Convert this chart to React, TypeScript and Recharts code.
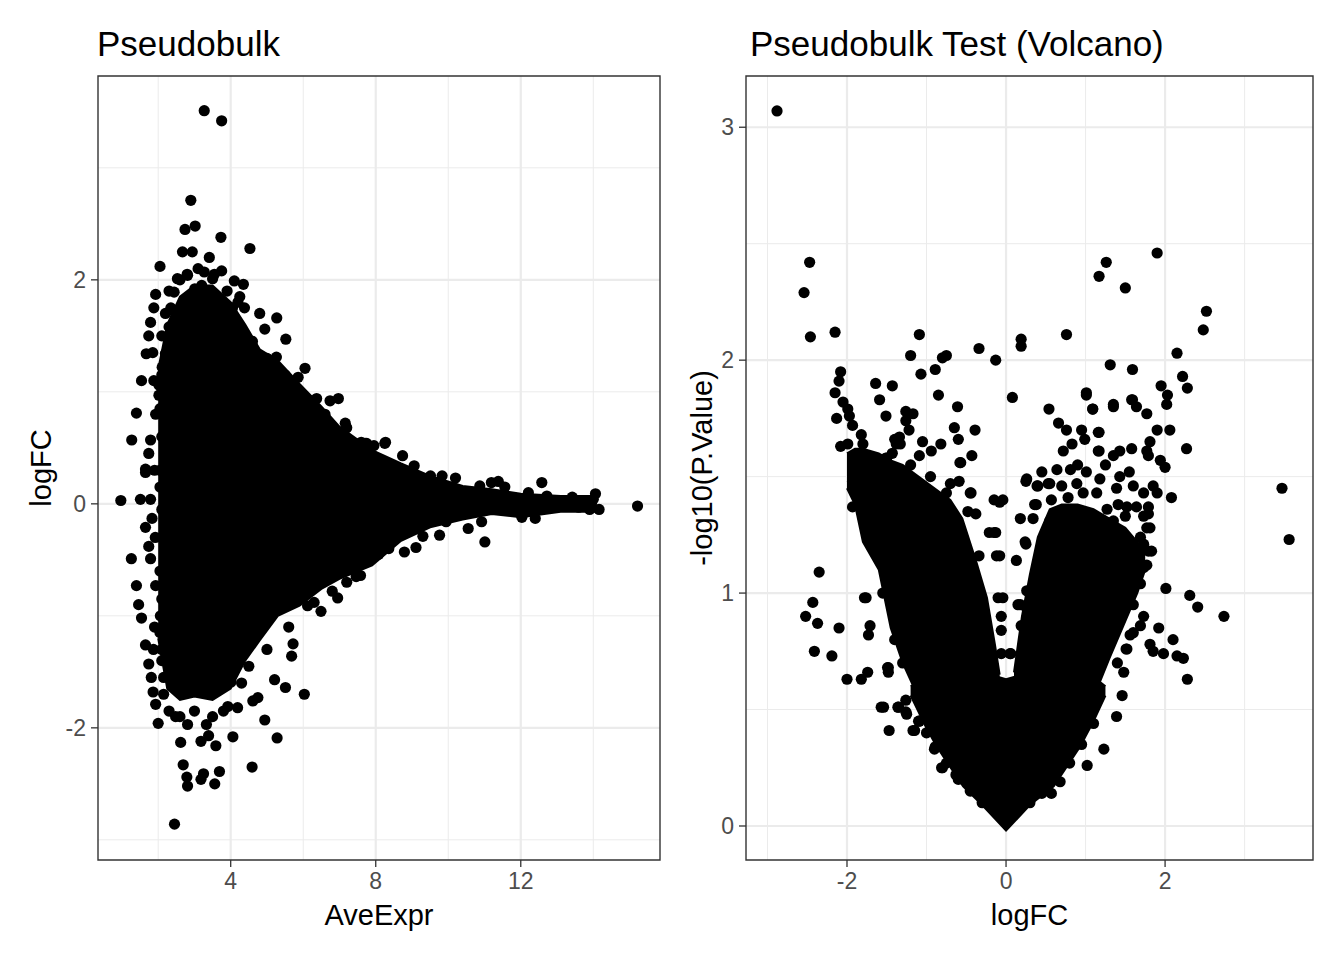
import React from "react";
import {
  ComposedChart,
  Area,
  Scatter,
  XAxis,
  YAxis,
  CartesianGrid,
  ReferenceArea,
} from "recharts";

const FONT = "'Liberation Sans', Arial, Helvetica, sans-serif";

// ---- MA plot (AveExpr vs logFC) ----
// solid core of the point cloud: AveExpr, lower logFC, upper logFC
const maCoreX = [2.0, 2.25, 2.6, 3.0, 3.5, 4.0, 4.4, 4.8, 5.3, 5.9, 6.5, 7.0, 7.9, 8.7, 9.5, 10.4, 11.2, 12.0, 13.1, 14.1];
const maCoreLow = [-1.2, -1.65, -1.75, -1.72, -1.75, -1.65, -1.4, -1.22, -1.0, -0.91, -0.76, -0.67, -0.55, -0.33, -0.21, -0.14, -0.09, -0.12, -0.07, -0.07];
const maCoreHigh = [1.2, 1.6, 1.85, 1.95, 1.95, 1.8, 1.6, 1.38, 1.28, 1.07, 0.87, 0.69, 0.48, 0.36, 0.25, 0.16, 0.13, 0.09, 0.07, 0.07];

// individual genes outside / on the edge of the core: [AveExpr, logFC]
const maPoints = [
  [3.27, 3.51], [3.75, 3.42], [2.9, 2.71], [2.74, 2.45], [3.02, 2.48], [3.73, 2.38], [4.53, 2.28],
  [2.67, 2.25], [2.94, 2.25], [3.41, 2.2], [2.05, 2.12], [2.81, 2.04], [3.27, 2.07], [3.75, 2.08],
  [2.53, 2.01], [3.5, 2.01], [4.1, 1.99], [4.35, 1.96], [1.93, 1.87], [2.44, 1.89], [3.01, 1.92],
  [1.88, 1.75], [2.39, 1.73], [4.38, 1.75], [4.8, 1.7], [5.27, 1.66], [1.79, 1.62], [1.74, 1.5],
  [2.3, 1.58], [4.94, 1.56], [5.52, 1.47], [1.67, 1.34], [2.2, 1.34], [2.11, 1.22], [6.05, 1.21],
  [5.26, 1.31], [5.86, 1.13], [1.54, 1.1], [2.02, 1.06], [2.02, 0.97], [6.37, 0.94], [6.74, 0.92],
  [6.97, 0.94], [1.4, 0.81], [1.93, 0.8], [7.16, 0.72], [7.71, 0.54], [8.27, 0.55], [1.27, 0.57],
  [1.79, 0.57], [1.74, 0.45], [1.65, 0.31], [1.65, 0.28], [0.97, 0.03], [1.51, 0.04], [1.79, 0.04],
  [1.83, -0.13], [1.65, -0.21], [1.74, -0.38], [1.26, -0.49], [1.79, -0.49], [1.4, -0.73],
  [1.93, -0.73], [1.46, -0.9], [1.54, -1.02], [2.06, -1.0], [1.65, -1.26], [1.74, -1.43],
  [1.81, -1.55], [1.86, -1.68], [1.93, -1.79], [2.0, -1.96], [2.48, -1.9], [2.62, -2.13],
  [2.81, -1.97], [3.33, -1.97], [3.18, -2.12], [3.39, -2.07], [3.59, -2.16], [4.06, -2.08],
  [4.94, -1.93], [5.28, -2.09], [2.69, -2.33], [2.79, -2.44], [2.81, -2.52], [3.25, -2.41],
  [3.18, -2.46], [3.69, -2.39], [3.56, -2.5], [4.59, -2.35], [2.45, -2.86], [5.21, -1.57],
  [5.51, -1.64], [6.03, -1.7], [4.01, -1.59], [4.19, -1.82], [3.92, -1.81], [4.61, -1.76],
  [4.75, -1.73], [5.68, -1.36], [5.72, -1.25], [6.49, -0.96], [6.95, -0.84], [6.12, -0.91],
  [7.46, -0.65], [7.39, -0.58], [7.71, -0.51], [8.08, -0.45], [8.36, -0.4], [8.25, 0.54],
  [8.74, 0.43], [7.75, 0.54], [7.95, 0.52], [9.06, 0.34], [9.51, 0.25], [9.83, 0.25], [10.2, 0.23],
  [10.87, 0.16], [11.19, 0.19], [11.38, 0.2], [11.56, 0.15], [12.58, 0.19], [12.21, 0.1],
  [12.72, 0.07], [13.42, 0.06], [14.06, 0.09], [14.16, -0.05], [15.22, -0.02], [12.4, -0.13],
  [12.03, -0.12], [11.01, -0.34], [10.55, -0.22], [10.92, -0.16], [9.94, -0.16], [9.76, -0.28],
  [9.3, -0.29], [9.11, -0.39], [8.79, -0.43], [11.75, -0.06], [13.6, -0.03], [7.77, -0.49],
  [7.58, -0.64], [10.3, 0.05], [10.7, 0.02], [11.0, -0.06], [11.4, 0.03], [11.9, 0.0], [12.3, 0.02],
  [12.9, -0.02], [13.2, 0.03], [13.8, 0.01], [14.0, 0.04], [13.9, -0.05], [4.6, 1.45], [5.0, 1.3],
  [5.5, 1.15], [6.2, 0.92], [6.6, 0.8], [7.2, 0.68], [7.6, 0.55], [4.5, -1.45], [5.0, -1.3],
  [5.6, -1.1], [6.3, -0.88], [6.8, -0.78], [7.2, -0.7], [2.1, 1.5], [2.05, 0.3], [2.1, -0.3],
  [2.1, -1.3], [2.15, -1.55], [2.2, 1.7], [2.3, 1.9], [2.6, 2.0], [3.2, 1.95], [3.9, 1.9], [4.2, 1.8],
  [2.1, 1.15], [2.05, 0.85], [2.1, 0.6], [2.05, 0.15], [2.1, -0.05], [2.05, -0.6], [2.1, -0.85],
  [2.05, -1.15], [2.1, -1.4], [2.15, -1.7], [2.35, 1.75], [2.8, 2.05], [3.1, 2.1], [3.55, 2.05],
  [4.25, 1.85], [4.05, 1.75], [2.3, -1.85], [2.6, -1.9], [3.0, -1.85], [3.5, -1.9], [3.8, -1.85],
  [4.3, -1.6], [1.88, 1.1], [1.9, 0.3], [1.92, -0.3], [1.9, -1.1], [1.85, 1.35], [1.87, -1.3],
];

// ---- Volcano (logFC vs -log10 P) ----
const vBaseX = [-1.2, -1.0, -0.87, -0.54, -0.3, 0, 0.3, 0.6, 0.93, 1.1, 1.25];
const vBaseLow = [0.56, 0.42, 0.34, 0.17, 0.09, -0.02, 0.09, 0.17, 0.34, 0.45, 0.56];
const vBaseHigh = [0.6, 0.64, 0.65, 0.66, 0.66, 0.63, 0.66, 0.66, 0.66, 0.64, 0.6];

const vLeftX = [-2.0, -1.9, -1.8, -1.6, -1.45, -1.3, -1.1, -0.9, -0.7, -0.55, -0.37, -0.24, -0.14, -0.08];
const vLeftLow = [1.45, 1.38, 1.22, 1.1, 0.85, 0.7, 0.55, 0.5, 0.5, 0.5, 0.5, 0.5, 0.5, 0.55];
const vLeftHigh = [1.6, 1.62, 1.62, 1.6, 1.57, 1.55, 1.5, 1.45, 1.4, 1.32, 1.13, 0.98, 0.78, 0.65];

const vRightX = [0.1, 0.2, 0.3, 0.4, 0.55, 0.7, 0.9, 1.1, 1.3, 1.5, 1.65, 1.75];
const vRightLow = [0.6, 0.3, 0.2, 0.25, 0.3, 0.38, 0.45, 0.55, 0.72, 0.88, 1.0, 1.1];
const vRightHigh = [0.66, 0.9, 1.08, 1.24, 1.36, 1.38, 1.38, 1.36, 1.32, 1.28, 1.22, 1.18];

// [logFC, -log10(P.Value)]
const volcanoPoints = [
  [-2.88, 3.07], [-2.47, 2.42], [-2.54, 2.29], [-2.46, 2.1], [-2.15, 2.12], [-1.09, 2.11],
  [-1.2, 2.02], [-0.8, 2.01], [-0.75, 2.02], [-0.34, 2.05], [-0.13, 2.0], [0.19, 2.09], [0.19, 2.06],
  [0.08, 1.84], [-2.08, 1.95], [-2.1, 1.91], [-2.15, 1.86], [-2.05, 1.82], [-1.99, 1.79],
  [-2.13, 1.75], [-1.97, 1.76], [-1.93, 1.72], [-1.82, 1.68], [-1.8, 1.64], [-1.76, 1.59],
  [-2.08, 1.63], [-1.99, 1.64], [-1.64, 1.9], [-1.43, 1.89], [-1.59, 1.83], [-1.51, 1.76],
  [-1.26, 1.78], [-1.17, 1.77], [-1.26, 1.74], [-1.22, 1.7], [-1.34, 1.67], [-1.38, 1.64],
  [-1.43, 1.6], [-1.51, 1.58], [-1.07, 1.94], [-0.89, 1.96], [-0.85, 1.85], [-0.61, 1.8],
  [-0.65, 1.71], [-0.6, 1.66], [-0.39, 1.7], [-0.43, 1.59], [-0.57, 1.56], [-1.05, 1.65],
  [-0.94, 1.61], [-0.82, 1.64], [-1.09, 1.59], [1.9, 2.46], [1.26, 2.42], [1.17, 2.36], [1.5, 2.31],
  [2.52, 2.21], [2.48, 2.13], [2.15, 2.03], [0.76, 2.11], [1.31, 1.98], [1.59, 1.96], [2.22, 1.93],
  [2.28, 1.88], [1.01, 1.86], [1.95, 1.89], [2.03, 1.85], [2.02, 1.81], [1.35, 1.8], [1.59, 1.83],
  [1.64, 1.8], [1.77, 1.77], [1.09, 1.79], [0.54, 1.79], [0.66, 1.73], [0.76, 1.7], [0.95, 1.7],
  [0.99, 1.66], [1.17, 1.69], [1.9, 1.7], [2.06, 1.7], [1.81, 1.65], [2.27, 1.62], [1.17, 1.61],
  [0.72, 1.61], [0.83, 1.64], [1.35, 1.59], [1.43, 1.61], [1.58, 1.62], [1.77, 1.61], [1.79, 1.59],
  [1.94, 1.57], [2.0, 1.54], [2.08, 1.41], [1.85, 1.46], [1.9, 1.43], [1.79, 1.37], [1.77, 1.28],
  [1.79, 1.34], [1.83, 1.18], [1.77, 1.12], [3.47, 1.45], [3.56, 1.23], [2.01, 1.02], [2.31, 0.99],
  [2.41, 0.94], [2.74, 0.9], [2.1, 0.8], [2.15, 0.73], [2.23, 0.72], [2.28, 0.63], [1.73, 0.9],
  [1.92, 0.85], [1.69, 0.86], [1.56, 0.82], [1.6, 0.83], [1.51, 0.76], [1.81, 0.78], [1.85, 0.75],
  [1.98, 0.74], [1.48, 0.66], [0.64, 1.53], [0.81, 1.53], [1.01, 1.52], [1.18, 1.49], [1.43, 1.5],
  [1.39, 1.45], [1.6, 1.46], [1.73, 1.43], [0.26, 1.49], [0.39, 1.46], [0.55, 1.47], [0.7, 1.46],
  [0.89, 1.47], [0.97, 1.43], [1.14, 1.43], [1.27, 1.36], [1.41, 1.38], [1.52, 1.37], [1.64, 1.37],
  [0.36, 1.38], [0.57, 1.4], [0.78, 1.41], [0.18, 1.32], [0.34, 1.32], [0.55, 1.31], [0.68, 1.34],
  [0.81, 1.33], [1.01, 1.31], [1.18, 1.3], [1.35, 1.31], [1.5, 1.33], [1.73, 1.33], [1.81, 1.28],
  [1.69, 1.24], [1.73, 1.21], [1.79, 1.18], [1.64, 1.16], [1.73, 1.11], [1.6, 1.07], [1.69, 1.04],
  [-0.15, 1.4], [-0.15, 1.26], [-0.12, 1.16], [0.05, 0.74], [0.18, 0.95], [0.26, 1.01], [0.13, 1.14],
  [0.24, 1.22], [-2.35, 1.09], [-2.43, 0.96], [-2.52, 0.9], [-2.37, 0.87], [-2.1, 0.85],
  [-2.41, 0.75], [-2.19, 0.73], [-2.0, 0.63], [-1.82, 0.63], [-1.74, 0.66], [-1.78, 0.98],
  [-1.76, 0.98], [-1.71, 0.86], [-1.73, 0.82], [-1.49, 0.68], [-1.48, 0.66], [-1.57, 0.51],
  [-1.47, 0.41], [-1.36, 0.51], [-1.26, 0.49], [-1.26, 0.54], [-1.15, 0.41], [-1.09, 0.45],
  [-0.9, 0.33], [-0.8, 0.25], [-0.63, 0.22], [-1.93, 1.37], [-1.93, 1.48], [-1.4, 1.51],
  [-1.26, 1.42], [-1.05, 1.39], [-1.43, 1.33], [-1.3, 1.36], [-0.44, 1.43], [-0.48, 1.35],
  [-0.38, 1.34], [-0.08, 1.39], [-0.04, 1.4], [0.25, 1.48], [0.4, 1.46], [0.38, 1.38], [-0.1, 0.98],
  [-0.04, 0.98], [-0.06, 0.74], [0.06, 0.74], [0.15, 0.95], [0.25, 0.94], [0.19, 0.86], [0.25, 1.21],
  [-0.59, 1.48], [-0.75, 1.43], [-0.21, 1.26], [-0.13, 1.26], [-0.08, 1.16], [-0.34, 1.16],
  [-0.06, 0.9], [-0.06, 0.84], [-0.58, 1.56], [-0.45, 1.43], [0.53, 1.47], [1.01, 1.85], [1.09, 1.79],
  [1.35, 1.81], [1.58, 1.83], [1.16, 1.69], [1.16, 1.61], [1.52, 0.76], [1.46, 0.56], [1.39, 0.47],
  [1.23, 0.33], [1.02, 0.26], [0.68, 0.19], [0.57, 0.14], [-1.54, 0.51], [-1.35, 0.51], [-1.25, 0.48],
  [-1.1, 0.45], [-1.17, 0.41], [-0.89, 0.34], [-0.81, 0.25], [-1.48, 0.68], [-1.42, 1.51],
  [-1.5, 1.58], [-1.4, 1.66], [-1.33, 1.64], [-0.3, 0.1], [-0.45, 0.15], [-0.6, 0.2], [-0.75, 0.27],
  [-1.0, 0.4], [0.3, 0.1], [0.45, 0.14], [0.8, 0.27], [0.95, 0.35], [1.1, 0.44],
  [-1.75, 1.3], [-1.65, 1.2], [-1.55, 1.0], [-1.4, 0.8], [-1.3, 0.7], [-1.2, 1.55], [-0.95, 1.5],
  [-0.7, 1.47], [0.45, 1.52], [0.9, 1.55], [1.25, 1.55], [1.55, 1.52], [1.4, 0.7], [1.6, 0.95],
];

const toBand = (xs: number[], lo: number[], hi: number[]) =>
  xs.map((x, i) => ({ x, band: [lo[i], hi[i]] }));
const toPoints = (pts: number[][]) => pts.map(([x, y]) => ({ x, y }));

const Dot = (p: any) => <circle cx={p.cx} cy={p.cy} r={5.6} fill="#000" />;

const tickStyle = { fill: "#4D4D4D", fontSize: 23, fontFamily: FONT };
const tickLine = { stroke: "#333333", strokeWidth: 1.3 };

type PanelProps = {
  width: number;
  margin: { top: number; right: number; bottom: number; left: number };
  yAxisWidth: number;
  xDomain: [number, number];
  yDomain: [number, number];
  xTicks: number[];
  yTicks: number[];
  xMinor: number[];
  yMinor: number[];
  bands: { x: number; band: number[] }[][];
  points: { x: number; y: number }[];
};

function Panel(props: PanelProps) {
  const { xDomain, yDomain } = props;
  return (
    <ComposedChart width={props.width} height={960} margin={props.margin}>
      <CartesianGrid
        stroke="#EBEBEB"
        strokeWidth={1}
        horizontalValues={props.yMinor}
        verticalValues={props.xMinor}
      />
      <CartesianGrid
        stroke="#EBEBEB"
        strokeWidth={2.2}
        horizontalValues={props.yTicks}
        verticalValues={props.xTicks}
      />
      <XAxis
        type="number"
        dataKey="x"
        domain={xDomain}
        allowDataOverflow
        ticks={props.xTicks}
        tick={tickStyle}
        tickLine={tickLine}
        axisLine={false}
        tickSize={7}
        tickMargin={6}
        height={60}
      />
      <YAxis
        type="number"
        dataKey="y"
        domain={yDomain}
        allowDataOverflow
        ticks={props.yTicks}
        tick={tickStyle}
        tickLine={tickLine}
        axisLine={false}
        tickSize={7}
        tickMargin={5}
        width={props.yAxisWidth}
      />
      {props.bands.map((b, i) => (
        <Area
          key={i}
          data={b}
          dataKey="band"
          type="linear"
          stroke="#000"
          strokeWidth={2}
          fill="#000"
          fillOpacity={1}
          dot={false}
          activeDot={false}
          isAnimationActive={false}
        />
      ))}
      <Scatter data={props.points} dataKey="y" shape={Dot} isAnimationActive={false} />
      <ReferenceArea
        x1={xDomain[0]}
        x2={xDomain[1]}
        y1={yDomain[0]}
        y2={yDomain[1]}
        fill="none"
        fillOpacity={0}
        stroke="#333333"
        strokeWidth={1.4}
        ifOverflow="visible"
      />
    </ComposedChart>
  );
}

export default function App() {
  return (
    <div
      style={{
        position: "absolute",
        left: 0,
        top: 0,
        width: 1344,
        height: 960,
        background: "#fff",
        fontFamily: FONT,
      }}
    >
      <div style={{ position: "absolute", left: 0, top: 0 }}>
        <Panel
          width={672}
          margin={{ top: 76, right: 12, bottom: 40, left: 38 }}
          yAxisWidth={60}
          xDomain={[0.34, 15.84]}
          yDomain={[-3.18, 3.82]}
          xTicks={[4, 8, 12]}
          yTicks={[-2, 0, 2]}
          xMinor={[2, 6, 10, 14]}
          yMinor={[-3, -1, 1, 3]}
          bands={[toBand(maCoreX, maCoreLow, maCoreHigh)]}
          points={toPoints(maPoints)}
        />
      </div>
      <div style={{ position: "absolute", left: 672, top: 0 }}>
        <Panel
          width={672}
          margin={{ top: 76, right: 31, bottom: 40, left: 34 }}
          yAxisWidth={40}
          xDomain={[-3.27, 3.86]}
          yDomain={[-0.146, 3.22]}
          xTicks={[-2, 0, 2]}
          yTicks={[0, 1, 2, 3]}
          xMinor={[-3, -1, 1, 3]}
          yMinor={[0.5, 1.5, 2.5]}
          bands={[
            toBand(vBaseX, vBaseLow, vBaseHigh),
            toBand(vLeftX, vLeftLow, vLeftHigh),
            toBand(vRightX, vRightLow, vRightHigh),
          ]}
          points={toPoints(volcanoPoints)}
        />
      </div>
      <svg
        width={1344}
        height={960}
        style={{ position: "absolute", left: 0, top: 0, pointerEvents: "none" }}
        fontFamily={FONT}
      >
        <text x={97} y={56} fontSize={35} fill="#000">Pseudobulk</text>
        <text x={750} y={56} fontSize={35} fill="#000">Pseudobulk Test (Volcano)</text>
        <text x={379} y={925} fontSize={29} fill="#000" textAnchor="middle">AveExpr</text>
        <text x={1029.5} y={925} fontSize={29} fill="#000" textAnchor="middle">logFC</text>
        <text transform="translate(51,468) rotate(-90)" fontSize={29} fill="#000" textAnchor="middle">
          logFC
        </text>
        <text transform="translate(712,468) rotate(-90)" fontSize={29} fill="#000" textAnchor="middle">
          -log10(P.Value)
        </text>
      </svg>
    </div>
  );
}
